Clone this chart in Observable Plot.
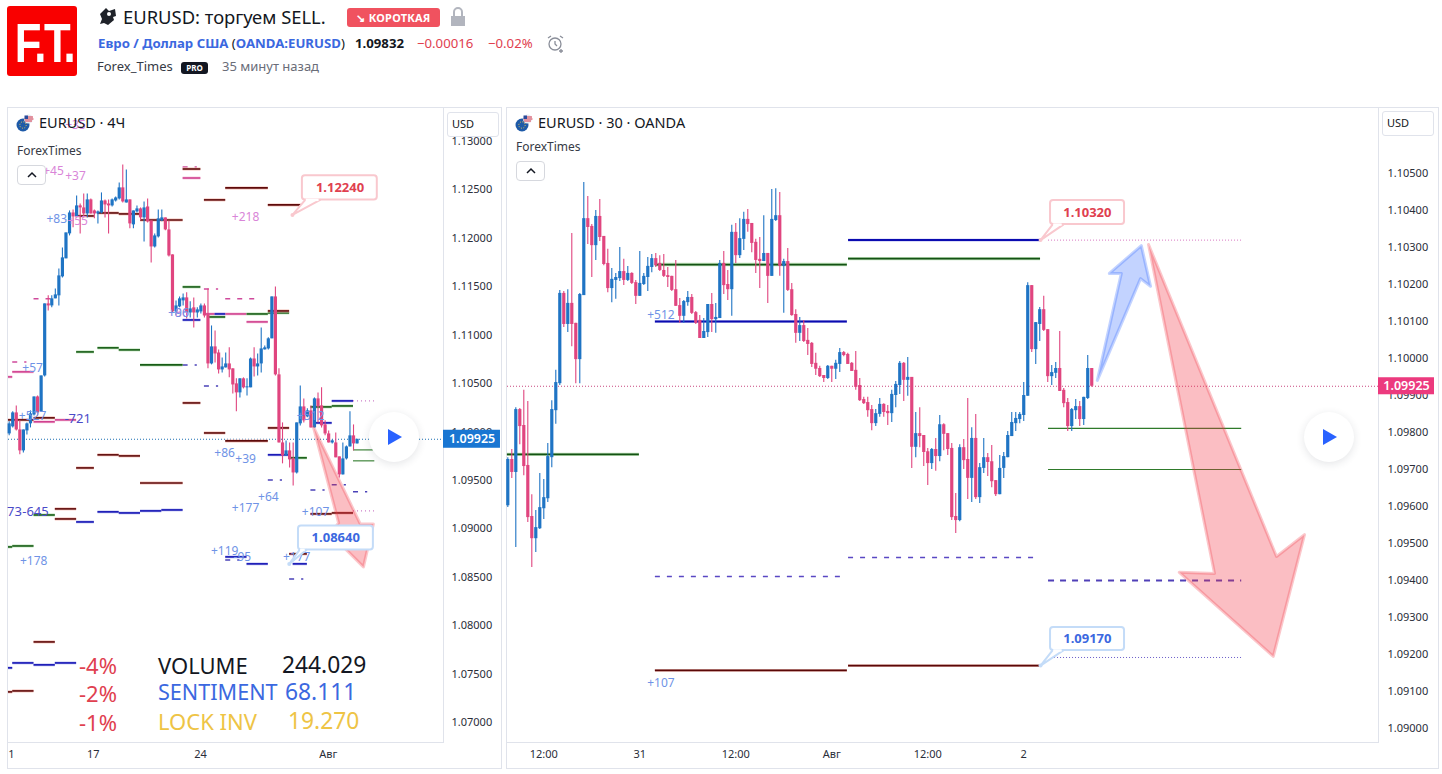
<!DOCTYPE html>
<html><head><meta charset="utf-8">
<script src="https://cdn.jsdelivr.net/npm/d3@7"></script>
<script src="https://cdn.jsdelivr.net/npm/@observablehq/plot@0.6"></script>
<style>
html,body{margin:0;padding:0;background:#fff;width:1442px;height:774px;overflow:hidden;font-family:"Noto Sans",sans-serif;color:#131722}
.a{position:absolute;white-space:nowrap;line-height:1}
.panel{position:absolute;border:1px solid #e0e3eb;box-sizing:border-box;top:107px;height:662px}
.plot{position:absolute;top:108px}
.plot svg{display:block;overflow:visible}
.usd{position:absolute;width:52px;height:25px;border:1px solid #e0e3eb;border-radius:3px;background:#fff;box-sizing:border-box;font-size:11px;line-height:22px;padding-left:4px;z-index:3}
.chev{position:absolute;width:29px;height:20px;border:1px solid #d6d8de;border-radius:4px;background:#fff;box-sizing:border-box;z-index:3}
.play{position:absolute;width:50px;height:50px;border-radius:50%;background:#fff;box-shadow:0 2px 8px rgba(30,40,60,.12);z-index:3}
.play:after{content:"";position:absolute;left:19px;top:17px;border-left:14px solid #2962ff;border-top:8px solid transparent;border-bottom:8px solid transparent}
.big{font-size:22px;z-index:3}
</style></head><body>
<script>
// ===== 30-minute panel (price × 100000) =====
const r30Open=[109602,109727,109692,109862,109819,109711,109573,109513,109540,109594,109621,109732,109859,109932,110176,110092,110149,110095,109997,110170,110378,110357,110305,110384,110330,110257,110189,110211,110216,110235,110211,110230,110205,110168,110200,110219,110246,110270,110257,110238,110224,110222,110186,110143,110114,110151,110165,110124,110103,110054,110070,110146,110105,110108,110257,110200,110186,110341,110278,110322,110376,110365,110314,110268,110262,110284,110222,110373,110386,110249,110262,110186,110119,110068,110089,110049,110041,109987,109973,109954,109946,109979,109971,109984,110016,110011,109987,109968,109927,109889,109881,109862,109824,109849,109876,109857,109851,109900,109927,109987,109941,109949,109760,109797,109792,109748,109716,109754,109735,109821,109797,109757,109573,109562,109759,109727,109676,109784,109624,109703,109732,109721,109670,109632,109703,109732,109789,109824,109835,109846,109898,110197,110024,110092,110132,110078,109951,109960,109973,109914,109881,109816,109859,109870,109835,109892,109973];
const r30High=[109732,109754,109867,109865,109914,109884,109632,109589,109689,109673,109770,109886,109968,110184,110181,110186,110338,110095,110176,110476,110438,110362,110400,110430,110330,110295,110243,110230,110300,110268,110249,110232,110211,110289,110230,110273,110281,110284,110278,110281,110246,110222,110265,110162,110157,110181,110173,110127,110116,110108,110146,110176,110149,110265,110289,110238,110360,110365,110378,110395,110403,110365,110322,110327,110386,110284,110457,110459,110449,110268,110297,110203,110132,110111,110103,110081,110043,110014,109979,109954,109981,109979,109995,110027,110019,110014,109989,110019,109946,109895,109895,109873,109862,109892,109878,109873,109914,109938,109992,109989,110003,109949,109854,109867,109792,109757,109757,109784,109846,109824,109797,109770,109635,109767,109781,109892,109813,109849,109716,109784,109743,109765,109670,109738,109746,109803,109854,109854,109854,109935,110205,110197,110097,110138,110168,110078,109981,109989,110073,109919,109892,109865,109889,109884,109895,110008,109973];
const r30Low=[109597,109676,109489,109767,109683,109557,109435,109476,109538,109565,109611,109705,109822,109927,110084,110070,110032,109932,109932,110170,110308,110219,110265,110316,110251,110178,110151,110160,110208,110197,110208,110200,110146,110168,110197,110181,110232,110246,110235,110219,110192,110181,110141,110095,110095,110141,110119,110092,110054,110054,110057,110070,110068,110108,110173,110157,110114,110257,110270,110292,110341,110286,110230,110189,110262,110149,110222,110370,110222,110122,110181,110114,110041,110046,110043,110008,109976,109954,109949,109935,109943,109935,109943,109962,110005,109984,109965,109914,109884,109876,109841,109805,109816,109841,109841,109819,109827,109867,109903,109884,109898,109703,109732,109759,109708,109657,109700,109695,109721,109751,109738,109562,109527,109559,109700,109619,109611,109619,109608,109689,109681,109651,109627,109632,109676,109732,109789,109803,109824,109830,109898,110016,109984,110046,110073,109935,109927,109946,109911,109867,109803,109803,109835,109816,109819,109889,109922];
const r30Close=[109727,109692,109862,109816,109708,109570,109513,109543,109597,109624,109735,109862,109935,110176,110092,110149,110092,109997,110173,110378,110354,110305,110384,110327,110254,110189,110214,110219,110235,110211,110230,110203,110168,110203,110222,110249,110270,110251,110238,110222,110219,110184,110141,110114,110154,110165,110122,110095,110054,110073,110146,110105,110111,110257,110197,110186,110341,110278,110324,110376,110362,110311,110265,110262,110284,110222,110376,110386,110249,110262,110184,110116,110068,110089,110046,110038,109984,109971,109951,109946,109979,109971,109987,110016,110008,109984,109965,109922,109886,109878,109859,109824,109851,109876,109854,109851,109903,109930,109987,109941,109949,109760,109797,109789,109746,109716,109754,109735,109821,109795,109754,109570,109562,109759,109724,109676,109784,109624,109705,109732,109719,109667,109632,109703,109735,109792,109827,109838,109849,109900,110197,110024,110097,110132,110076,109951,109962,109973,109911,109878,109816,109862,109870,109835,109895,109973,109925];

// ===== 4-hour panel (price × 100000) =====
const h4Open=[109980,110053,110197,110021,109805,110011,110084,110176,110362,110208,110579,111323,111302,111375,111406,111602,111788,112046,112262,112221,112335,112314,112252,112397,112283,112252,112262,112386,112355,112335,112386,112407,112521,112365,112397,112139,112273,112304,112211,112324,112180,111911,112015,112180,112211,112087,111829,111240,111292,111354,111385,111229,111282,111229,111240,111302,111209,110703,110879,110816,110641,110662,110703,110652,110497,110404,110549,110456,110456,110754,110672,110703,110848,110858,110962,111395,110590,109887,109753,109805,109722,109577,110084,110259,110156,110218,110042,110342,110269,110073,109980,109887,109887,109743,109557,109722,109846,109960,109877];
const h4High=[110105,110208,110269,110115,110021,110094,110218,110362,110372,110579,111323,111406,111406,111478,111684,111901,112056,112283,112293,112438,112355,112459,112459,112407,112293,112283,112469,112397,112397,112407,112428,112572,112758,112706,112397,112283,112335,112314,112376,112407,112180,112046,112293,112293,112211,112180,111829,111354,111395,111426,111437,111344,111385,111282,111323,111323,111478,111095,111044,110848,110765,110817,110869,110652,110549,110549,110559,110549,110765,110869,110806,111075,110889,110972,111395,111498,110652,110094,109908,109887,109887,110094,110476,110342,110239,110269,110352,110403,110456,110115,110011,109918,109990,109743,109887,109856,110208,110073,109918];
const h4Low=[109960,110042,110011,109764,109784,109970,110042,110166,110166,110208,110569,111250,111282,111375,111302,111591,111788,112025,112108,112211,112046,112211,112211,112252,112201,112149,112252,112211,112046,112324,112376,112397,112365,112365,112098,112098,112262,112180,111963,112159,111746,111901,112004,112170,112077,111808,111229,111198,111282,111302,111167,111178,111075,111178,111219,111178,110652,110693,110713,110600,110610,110662,110559,110393,110208,110352,110445,110372,110456,110569,110579,110610,110848,110848,110962,110579,109887,109671,109753,109629,109443,109567,110063,110094,110146,110042,110042,110094,110042,109960,109887,109877,109733,109526,109557,109712,109846,109805,109877];
const h4Close=[110084,110197,110021,109805,110021,110084,110187,110362,110197,110579,111323,111302,111375,111416,111612,111798,112056,112262,112221,112335,112314,112252,112397,112252,112252,112273,112386,112345,112335,112397,112417,112521,112376,112397,112149,112283,112304,112211,112314,112170,111911,112025,112201,112211,112087,111818,111240,111302,111375,111385,111229,111271,111229,111261,111302,111198,110703,110879,110806,110641,110672,110703,110641,110486,110404,110549,110456,110466,110754,110672,110703,110858,110869,110962,111395,110590,109887,109753,109805,109712,109577,110094,110259,110115,110218,110042,110342,110259,110063,109980,109887,109908,109733,109557,109722,109846,109960,109877,109925];

// ===== level segments: [from candle, to candle, price×100000] =====
const h4Maroon=[[-0.2,7,110125],[7,13,110146],[19,24,112231],[25,31,112262],[31,37,112252],[37,49,112190],[49,54,112716],[55,61,112397],[61,73,112521],[73,83,112345],[49,54,110300],[55,61,109990],[61,73,109908],[19,24,109629],[25,31,109764],[31,37,109753],[37,49,109474],[13,19,109206],[13,19,109102],[73,79,110042],[73,79,111250],[85,91,109154],[91,97,109164],[7,13,107832],[1,7,107326],[-0.2,1,107316],[79,84,108741]];
const h4Green=[[-0.2,1,108813],[1,7,108823],[7,13,109143],[19,24,110827],[25,31,110869],[31,37,110848],[37,49,110693],[49,54,111498],[56,61,111188],[67,73,111219],[73,79,111230],[79,84,109733],[85,91,110259],[91,97,110269]];
const h4GreenThin=[[97,102.6,109815],[97,103,109702]];
const h4Blue=[[-0.2,1,107564],[1,7,107615],[7,13,107595],[13,19,107615],[19,24,109071],[25,31,109175],[31,37,109164],[37,43,109185],[43,49,109195],[49,54,111157],[58,61,111219],[61,67,108710],[67,73,108638],[73,79,109764],[80,84,108638],[91,97,110321],[86,91,110094]];
const h4Pink=[[-0.2,1,110569],[1,7,110621],[7,13,110105],[13,19,110125],[49,54,112623],[55,61,111219],[61,67,111219],[67,73,111137]];
const h4PinkDash=[[1,5,110724],[7,12,111375],[49,53,112737],[55,59,111478],[61,71,111375]];
const h4BlueDash=[[49,53,110693],[55,59,110476],[73,77,109505],[85,89,109402],[91,95,109454],[97,101,109382],[61,65,108679],[79,83,108483]];
const h4PinkDot=[[97,103,110321],[97,103,109185]];

const r30Green=[[-0.1,32.9,109741],[36.9,84.9,110254],[85.2,133.2,110270]];
const r30Blue=[[36.9,84.9,110100],[85.2,133.2,110320]];
const r30Maroon=[[36.9,84.9,109157],[85.2,133.2,109170]];
const r30Dash=[[36.9,84.9,109411],[85.2,133.2,109462]];
const r30ThickDash=[[135.2,183.5,109400]];
const r30Thin=[[135.2,183.5,109811],[135.2,183.5,109700]];
const r30PinkDot=[[135.2,183.5,110320]];
const r30BlueDot=[[135.2,183.5,109192]];

// ===== arrows: [candle, price×100000] =====
const r30UpArrow=[[147.4,109941],[153.4,110230],[150.4,110230],[158.4,110305],[160.7,110195],[158.2,110216],[147.4,109941]];
const r30DownArrow=[[160.2,110308],[192.2,109465],[199.2,109524],[191.4,109195],[167.9,109422],[176.7,109419],[160.2,110308]];
const h4DownArrow=[[85.7,110053],[98.9,109051],[102.6,109051],[99.8,108607],[90.5,108948],[92.8,109061],[85.7,110053]];

// ===== stat labels: [text, candle, price×100000] =====
const h4LabelsPink=[["+45",12.5,112696],["+37",18.7,112645],["+35",18.7,113165],["+55",19.3,112180],["+218",66.6,112221],["+86",47.7,111230]];
const h4LabelsBlue=[["+83",13.4,112201],["+96",47.7,111230],["+57",6.6,110662],["+527",6.6,110166],["+178",6.9,108669],["+86",60.7,109784],["+39",66.6,109722],["+64",73,109330],["+177",66.6,109216],["+107",86.3,109175],["+119",60.7,108772],["-95",65.7,108710],["+177",81,108710],["+512",84.9,110166]];
const h4LabelsInk=[["-721",19.3,110135],["-645",7.4,109175],["73",1.5,109175]];
const r30Labels=[["+512",38.3,110116],["+107",38.3,109122]];

const yTicks4H=[1.07,1.075,1.08,1.085,1.09,1.095,1.10,1.105,1.11,1.115,1.12,1.125,1.13];
const yTicks30=[1.09,1.091,1.092,1.093,1.094,1.095,1.096,1.097,1.098,1.099,1.10,1.101,1.102,1.103,1.104,1.105];
const xTicks4H=[0.6,23.7,53.9,89.9];
const xNames4H=["1","17","24","Авг"];
const xTicks30=[9,33,57,81,105,129];
const xNames30=["12:00","31","12:00","Авг","12:00","2"];
const lastPrice=1.09925;

const BLUE="#1f74c4",PINK="#e0457f",FONT='"Noto Sans",sans-serif';
const LBLUE="#6f93e6",LPINK="#d985d8",INK="#4a4ac8";
const rows=a=>a.map(([a1,a2,p])=>({a1,a2,p:p/1e5}));
const pts=a=>a.map(([i,p])=>({i,p:p/1e5}));
const labs=a=>a.map(([t,i,p])=>({t,i,p:p/1e5}));

function candles(O,H,L,C){
  const d=O.map((o,i)=>({i,o:o/1e5,h:H[i]/1e5,l:L[i]/1e5,c:C[i]/1e5,col:C[i]>=o?BLUE:PINK}));
  return [
    Plot.ruleX(d,{x:"i",y1:"l",y2:"h",stroke:"col",strokeWidth:1.1}),
    Plot.ruleX(d,{x:"i",y1:"o",y2:"c",stroke:"col",strokeWidth:3.2})
  ];
}
function seg(a,core,halo,w=1.6,hw=3){
  const d=rows(a),out=[];
  if(halo) out.push(Plot.ruleY(d,{y:"p",x1:"a1",x2:"a2",stroke:halo,strokeWidth:hw}));
  out.push(Plot.ruleY(d,{y:"p",x1:"a1",x2:"a2",stroke:core,strokeWidth:w}));
  return out;
}
function dash(a,c,da,w=1.5){return Plot.ruleY(rows(a),{y:"p",x1:"a1",x2:"a2",stroke:c,strokeWidth:w,strokeDasharray:da});}
function arrow(a,c,fo){return Plot.line(pts(a),{x:"i",y:"p",stroke:c,fill:c,fillOpacity:fo,strokeOpacity:.28,strokeWidth:3,strokeLinejoin:"round"});}
function texts(a,c,fs=12){return Plot.text(labs(a),{x:"i",y:"p",text:"t",fill:c,fontSize:fs});}
function callout(x1,x2,yTop,yBot,tip,b1,b2,label,tx,ty,stroke,ink){
  const yb=yBot/1e5, lnk=[{i:b1,p:yb},{i:tip[0],p:tip[1]/1e5},{i:b2,p:yb}];
  return [
    Plot.rect([{x1,x2,y1:yTop/1e5,y2:yb}],{x1:"x1",x2:"x2",y1:"y1",y2:"y2",fill:"#fff",stroke,strokeWidth:2,rx:3}),
    Plot.line(lnk,{x:"i",y:"p",stroke,strokeWidth:2,fill:"#fff"}),
    Plot.ruleY([yb],{x1:b1+.3,x2:b2-.3,stroke:"#fff",strokeWidth:2.4}),
    Plot.dot([lnk[1]],{x:"i",y:"p",r:2,fill:stroke}),
    Plot.text([{t:label,i:tx,p:ty/1e5}],{x:"i",y:"p",text:"t",fill:ink,fontSize:13,fontWeight:700,style:{letterSpacing:".5px"}})
  ];
}
function axes(yT,xT,xN,padY){
  return [
    Plot.axisY({anchor:"right",ticks:yT,tickSize:0,tickPadding:padY,tickFormat:d=>d.toFixed(5),label:null,fontSize:11,fill:"#2a2e39"}),
    Plot.axisX({ticks:xT,tickFormat:d=>xN[xT.indexOf(d)],tickSize:0,tickPadding:8,label:null,fontSize:11,fill:"#2a2e39"})
  ];
}

const plot4H=Plot.plot({
  width:493,height:660,marginLeft:0,marginTop:0,marginRight:58,marginBottom:26,
  style:{fontFamily:FONT,background:"transparent",overflow:"visible"},
  x:{type:"linear",domain:[-0.19,122.35]},
  y:{type:"linear",domain:[1.067933,1.133408]},
  marks:[
    axes(yTicks4H,xTicks4H,xNames4H,8),
    Plot.frame({anchor:"right",stroke:"#e0e3eb"}),
    Plot.frame({anchor:"bottom",stroke:"#e0e3eb"}),
    Plot.ruleY([lastPrice],{x1:-0.19,x2:122.35,stroke:"#1b6fb3",strokeWidth:1,strokeDasharray:"1 2"}),
    dash(h4PinkDot,"#cc7ec8","1 3",1.3),
    dash(h4PinkDash,"#cf4a9c","5 7"),
    dash(h4BlueDash,"#4a42b8","5 7"),
    seg(h4GreenThin,"#2e7a2a",null,1.1),
    seg(h4Pink,"#d0418f","#f7cfe2"),
    seg(h4Green,"#175c16","#c2e4bd"),
    seg(h4Blue,"#1212b4","#c8cbf3"),
    seg(h4Maroon,"#5e0b0b","#f3c0b8"),
    candles(h4Open,h4High,h4Low,h4Close),
    arrow(h4DownArrow,"#f23645",.32),
    texts(h4LabelsPink,LPINK),texts(h4LabelsBlue,LBLUE),texts(h4LabelsInk,INK,13),
    callout(82.6,103.7,112645,112397,[79.8,112242],83.4,87.6,"1.12240",93.2,112521,"#f9c8ce","#e0404f"),
    callout(81.5,102.6,109030,108782,[78.9,108638],81.8,83.7,"1.08640",92,108906,"#c4dcf8","#3b68e0"),
    Plot.rect([0],{x1:122.35,x2:138.4,y1:lastPrice-.00093,y2:lastPrice+.00093,fill:"#1976d2"}),
    Plot.text([lastPrice],{x:130.4,y:d=>d,text:d=>d.toFixed(5),fill:"#fff",fontSize:12.5,fontWeight:600})
  ]
});
const plot30=Plot.plot({
  width:931,height:660,marginLeft:0,marginTop:0,marginRight:60,marginBottom:26,
  style:{fontFamily:FONT,background:"transparent",overflow:"visible"},
  x:{type:"linear",domain:[-0.075,217.7]},
  y:{type:"linear",domain:[1.089622,1.106757]},
  marks:[
    axes(yTicks30,xTicks30,xNames30,9),
    Plot.frame({anchor:"right",stroke:"#e0e3eb"}),
    Plot.frame({anchor:"bottom",stroke:"#e0e3eb"}),
    Plot.ruleY([lastPrice],{x1:-0.075,x2:217.7,stroke:"#c8477f",strokeWidth:1,strokeDasharray:"1 2"}),
    dash(r30PinkDot,"#d775c0","1 2",1),
    dash(r30BlueDot,"#6a5cc8","1 2",1),
    dash(r30Dash,"#5a48c4","5 7",1.6),
    dash(r30ThickDash,"#5040b8","6 6",2.2),
    seg(r30Thin,"#2e7a2a",null,1.2),
    seg(r30Green,"#145214","#bfe3ba",1.8,3.4),
    seg(r30Blue,"#0b0bb0","#d0d2f4",2,3.2),
    seg(r30Maroon,"#5a0808","#efc4be",1.8,2.8),
    candles(r30Open,r30High,r30Low,r30Close),
    arrow(r30UpArrow,"#2962ff",.28),
    arrow(r30DownArrow,"#f23645",.32),
    texts(r30Labels,LBLUE),
    callout(135.7,154.2,110427,110362,[133.2,110320],136.2,138.9,"1.10320",144.9,110395,"#f9c8ce","#e0404f"),
    callout(135.7,154.2,109273,109211,[133.2,109170],136.2,138.9,"1.09170",144.9,109243,"#c4dcf8","#3b68e0"),
    Plot.rect([0],{x1:217.7,x2:231.7,y1:lastPrice-.00023,y2:lastPrice+.00023,fill:"#ec3a7e"}),
    Plot.text([lastPrice],{x:224.7,y:d=>d,text:d=>d.toFixed(5),fill:"#fff",fontSize:12.5,fontWeight:600})
  ]
});

function el(cls,style,html){const e=document.createElement("div");e.className=cls;e.style.cssText=style;e.innerHTML=html||"";document.body.appendChild(e);return e;}
el("panel","left:7px;width:495px");
el("panel","left:506px;width:933px");
el("plot","left:8px").appendChild(plot4H);
el("plot","left:507px").appendChild(plot30);

const globe=`<svg width="18" height="18" viewBox="0 0 18 18"><circle cx="7" cy="11" r="6.5" fill="#1d5aa8"/><circle cx="7" cy="11" r="3.2" fill="none" stroke="#f2c94c" stroke-width="1" stroke-dasharray="1 1.5"/><circle cx="12.5" cy="5" r="4.5" fill="#e8eaf2"/><path d="M9 3h8M8.5 5h9M9 7h7" stroke="#d9384a" stroke-width="1"/><path d="M8.5 1.5h3.5v3.5h-3.5z" fill="#2a4b9b"/></svg>`;
const chev=`<svg width="27" height="18"><path d="M10 11l4-4 4 4" fill="none" stroke="#131722" stroke-width="1.5"/></svg>`;

// header
el("a","left:7px;top:6px;width:70px;height:70px;background:#f90000;border-radius:3px;z-index:2");
el("a","left:7px;top:15px;width:70px;text-align:center;color:#fff;font:700 56px/1 'Liberation Sans';letter-spacing:-3px;transform:scaleX(.78);z-index:3","F.T.");
el("a","left:98px;top:7px;z-index:2",`<svg width="20" height="20" viewBox="0 0 20 20"><path d="M2 7l6-6 3 3 6-2 1 7-3 1 1 3-6 5-4-2-4 1 2-5z" fill="#1f2229"/><circle cx="11" cy="7" r="2" fill="#fff"/></svg>`);
el("a","left:123px;top:8px;font-size:18.4px","EURUSD: торгуем SELL.");
el("a","left:347px;top:8px;width:93px;height:19px;background:#f0525f;border-radius:3px;color:#fff;font:700 11px/19px 'Noto Sans';text-align:center;letter-spacing:.2px","↘ КОРОТКАЯ");
el("a","left:450px;top:7px",`<svg width="16" height="20"><path d="M4 9V5a4 4 0 0 1 8 0v4" fill="none" stroke="#b2b5be" stroke-width="2"/><rect x="1" y="9" width="14" height="10" fill="#b2b5be"/></svg>`);
el("a","left:98px;top:37px;font-size:13.2px;font-weight:700;color:#3b68e0",`Евро / Доллар США <span style="color:#131722;font-weight:400">(</span>OANDA:EURUSD<span style="color:#131722;font-weight:400">)</span>`);
el("a","left:355px;top:37px;font-size:13.2px;font-weight:700","1.09832");
el("a","left:417px;top:37px;font-size:13.2px;color:#e0404f","−0.00016");
el("a","left:488px;top:37px;font-size:13.2px;color:#e0404f","−0.02%");
el("a","left:546px;top:34px",`<svg width="20" height="20" fill="none" stroke="#8a8e99" stroke-width="1.3"><circle cx="9" cy="10" r="6"/><path d="M9 7v3l2 2M2 4l3-2M14 2l3 2M15 15v4M13 17h4"/></svg>`);
el("a","left:97px;top:60px;font-size:13px;color:#363a45","Forex_Times");
el("a","left:181px;top:62px;width:27px;height:12px;background:#131722;border-radius:3px;color:#fff;font:700 8px/12px 'Noto Sans';text-align:center","PRO");
el("a","left:222px;top:60px;font-size:13px;color:#6a6d78","35 минут назад");
// left legend
el("a","left:16px;top:114px;z-index:3",globe);
el("a","left:39px;top:115px;font-size:14.5px;z-index:3","EURUSD · 4Ч");
el("a","left:17px;top:145px;font-size:12px;color:#363a45;z-index:3","ForexTimes");
el("chev","left:17px;top:165px",chev);
el("usd","left:447px;top:112px","USD");
el("play","left:369px;top:412px");
// right legend
el("a","left:515px;top:114px;z-index:3",globe);
el("a","left:538px;top:115px;font-size:14.5px;z-index:3","EURUSD · 30 · OANDA");
el("a","left:516px;top:141px;font-size:12px;color:#363a45;z-index:3","ForexTimes");
el("chev","left:516px;top:161px",chev);
el("usd","left:1382px;top:111px","USD");
el("play","left:1304px;top:412px");
// stats block
const st=[["-4%",79,654,"#e0404f",22],["-2%",79,682,"#e0404f",22],["-1%",79,711,"#e0404f",22],
["VOLUME",158,654,"#131722",22],["244.029",282,654,"#131722",22.8],["SENTIMENT",158,681,"#3b68e0",21.6],["68.111",285,681,"#3b68e0",22.8],["LOCK INV",158,710,"#eec445",22],["19.270",288,710,"#eec445",22.8]];
st.forEach(([t,x,y,c,s])=>el("a big",`left:${x}px;top:${y}px;color:${c};font-size:${s}px`,t));
</script>
</body></html>
